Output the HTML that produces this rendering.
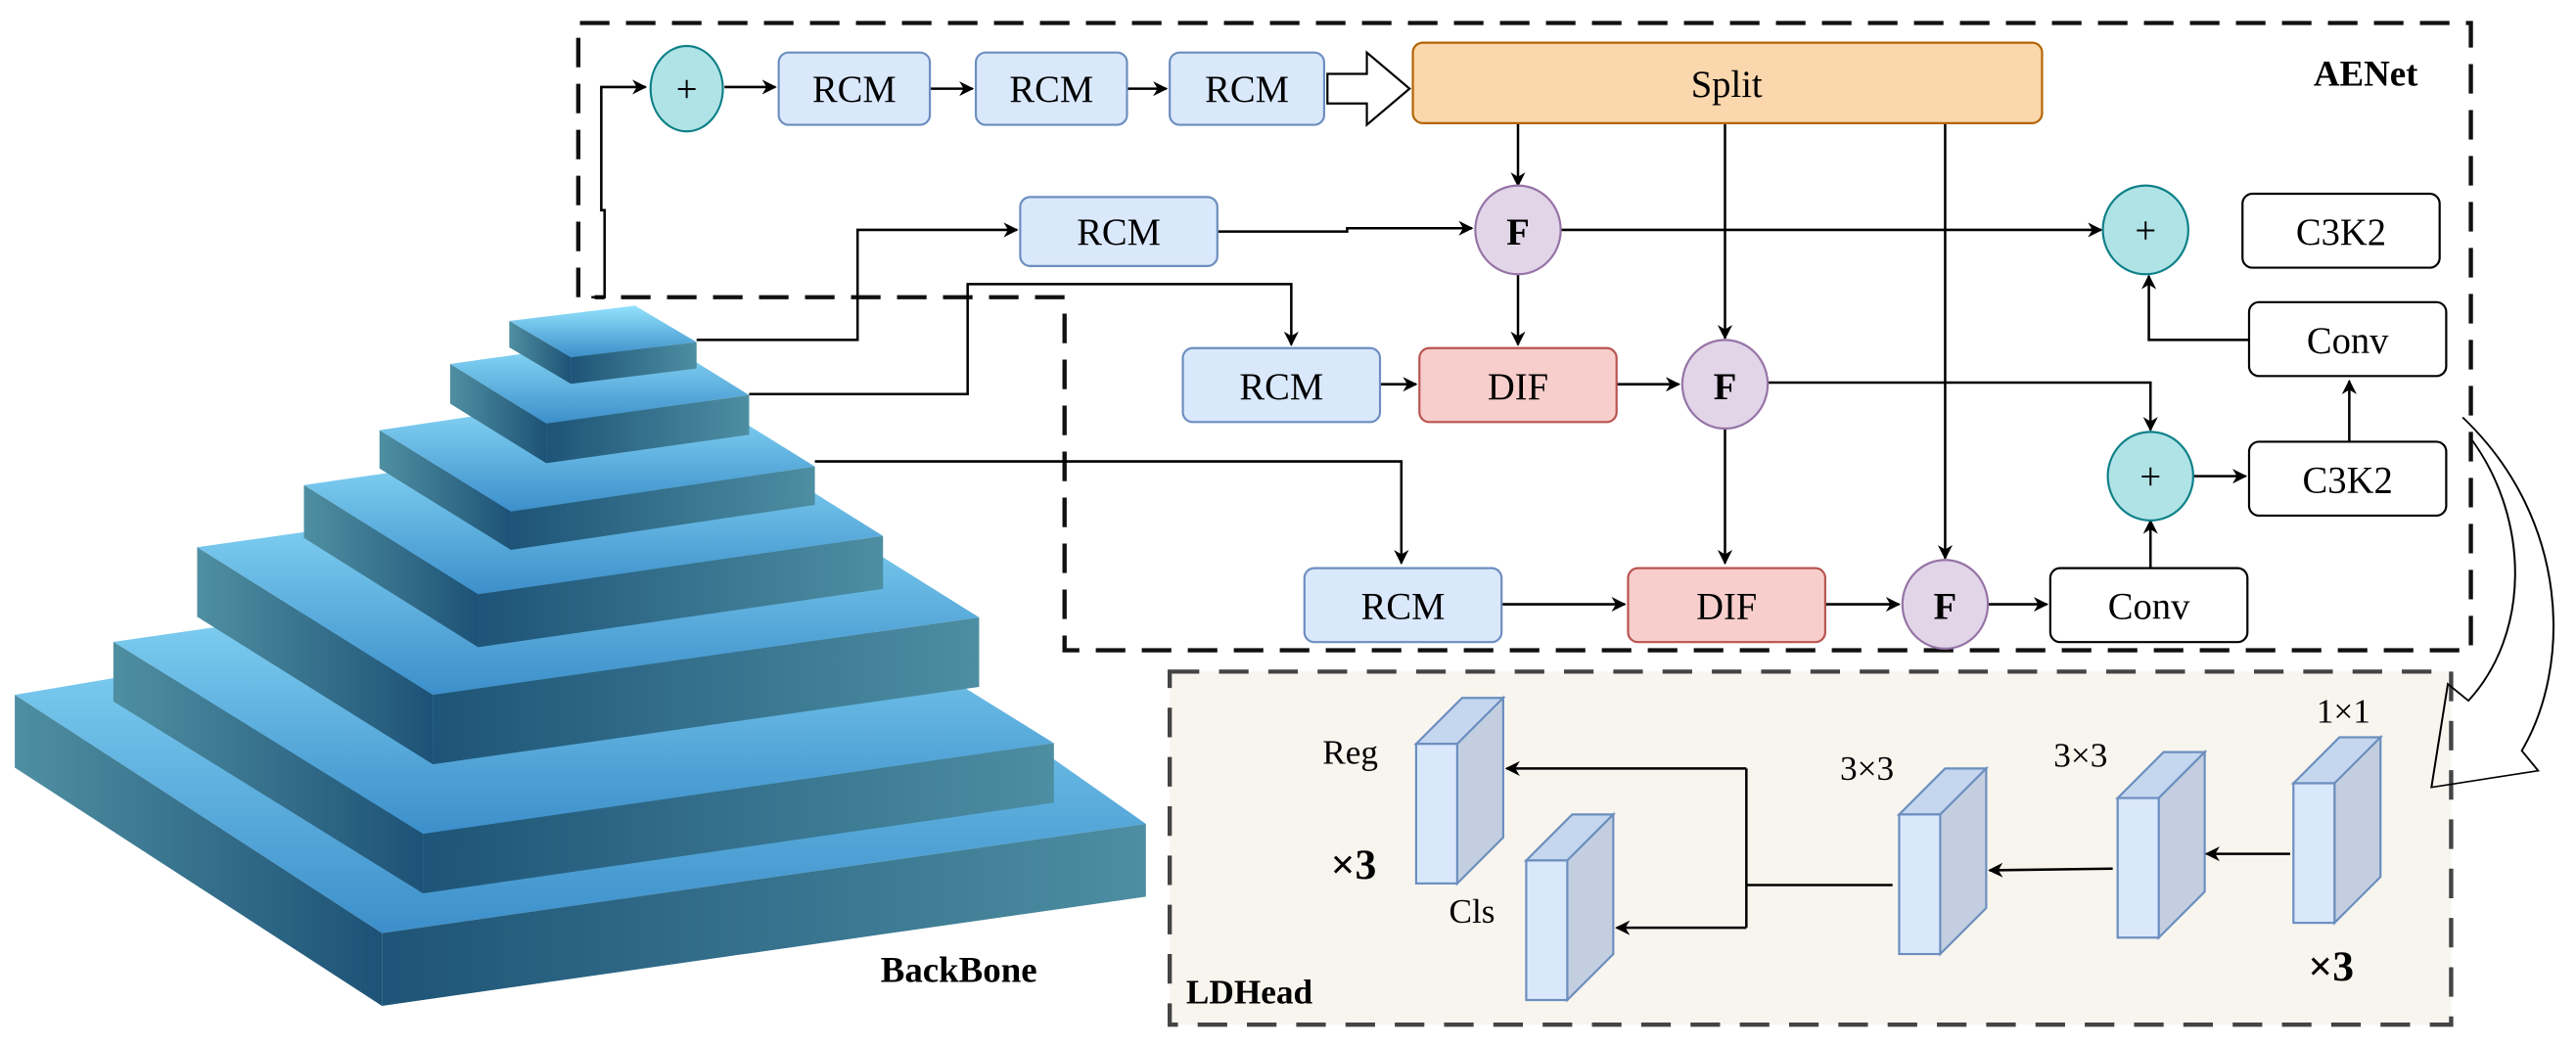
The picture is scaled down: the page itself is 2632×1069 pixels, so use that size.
<!DOCTYPE html>
<html><head><meta charset="utf-8"><style>
html,body{margin:0;padding:0;background:#fff;}
svg{display:block;}
svg text{font-family:"Liberation Serif","Times New Roman",serif;}
</style></head><body>
<svg width="2632" height="1069" viewBox="0 0 1568 637" preserveAspectRatio="none" xmlns="http://www.w3.org/2000/svg" font-family="Liberation Serif, serif">
<defs>
<marker id="ah" viewBox="0 0 10 10" refX="9" refY="5" markerWidth="6" markerHeight="6" orient="auto"><path d="M0,0 L10,5 L0,10 L3,5 z" fill="#000"/></marker>
<linearGradient id="gt" x1="0" y1="0" x2="0" y2="1"><stop offset="0" stop-color="#93e2fd"/><stop offset="1" stop-color="#3c8fca"/></linearGradient>
<linearGradient id="gl" x1="0" y1="0" x2="1" y2="0"><stop offset="0" stop-color="#4f8fa2"/><stop offset="1" stop-color="#1d5276"/></linearGradient>
<linearGradient id="gr" x1="0" y1="0" x2="1" y2="0"><stop offset="0" stop-color="#1e5477"/><stop offset="1" stop-color="#4d8ea2"/></linearGradient>
</defs>

<g transform="matrix(0.5,0,0,0.403,0,2)">
<g><polygon points="18,1045 948,850 1395,1240 465,1405" fill="url(#gt)"/><polygon points="18,1045 465,1405 465,1515 18,1155" fill="url(#gl)"/><polygon points="465,1405 1395,1240 1395,1350 465,1515" fill="url(#gr)"/></g>
<g><polygon points="138,965 906,828 1283,1118 515,1255" fill="url(#gt)"/><polygon points="138,965 515,1255 515,1345 138,1055" fill="url(#gl)"/><polygon points="515,1255 1283,1118 1283,1208 515,1345" fill="url(#gr)"/></g>
<g><polygon points="240,822 905,705 1192,928 527,1045" fill="url(#gt)"/><polygon points="240,822 527,1045 527,1150 240,927" fill="url(#gl)"/><polygon points="527,1045 1192,928 1192,1033 527,1150" fill="url(#gr)"/></g>
<g><polygon points="370,728 863,640 1075,805 582,893" fill="url(#gt)"/><polygon points="370,728 582,893 582,973 370,808" fill="url(#gl)"/><polygon points="582,893 1075,805 1075,885 582,973" fill="url(#gr)"/></g>
<g><polygon points="462,645 832,577 992,700 622,768" fill="url(#gt)"/><polygon points="462,645 622,768 622,826 462,703" fill="url(#gl)"/><polygon points="622,768 992,700 992,758 622,826" fill="url(#gr)"/></g>
<g><polygon points="548,545 795,502 912,592 665,635" fill="url(#gt)"/><polygon points="548,545 665,635 665,695 548,605" fill="url(#gl)"/><polygon points="665,635 912,592 912,652 665,695" fill="url(#gr)"/></g>
<g><polygon points="620,480 773,457 848,512 695,535" fill="url(#gt)"/><polygon points="620,480 695,535 695,575 620,520" fill="url(#gl)"/><polygon points="695,535 848,512 848,552 695,575" fill="url(#gr)"/></g>
</g>
<text x="536" y="598" font-size="22" font-weight="bold">BackBone</text>

<path d="M352,181 L352,14 L1504,14 L1504,396 L648,396 L648,181 L362,181" fill="none" stroke="#111" stroke-width="2.6" stroke-dasharray="18,10"/>
<text x="1440" y="52" font-size="22" font-weight="bold" text-anchor="middle">AENet</text>

<rect x="712" y="409" width="780" height="215" fill="#f7f5ee"/>
<rect x="712" y="409" width="780" height="215" fill="none" stroke="#444" stroke-width="2.6" stroke-dasharray="18,12"/>
<text x="722" y="611" font-size="21" font-weight="bold">LDHead</text>

<g fill="none" stroke="#000" stroke-width="1.5">
<path d="M360,181 L368,181 L368,128 L366,128 L366,53 L393,53" marker-end="url(#ah)"/>
<path d="M424,207 L522,207 L522,140 L619,140" marker-end="url(#ah)"/>
<path d="M456,240 L589,240 L589,173 L786,173 L786,210" marker-end="url(#ah)"/>
<path d="M496,281 L853,281 L853,343" marker-end="url(#ah)"/>
<path d="M441,53 L472,53" marker-end="url(#ah)"/>
<path d="M566,54 L592,54" marker-end="url(#ah)"/>
<path d="M686,54 L710,54" marker-end="url(#ah)"/>
<path d="M924,75 L924,113" marker-end="url(#ah)"/>
<path d="M1050,75 L1050,206" marker-end="url(#ah)"/>
<path d="M1184,75 L1184,340" marker-end="url(#ah)"/>
<path d="M741,141 L820,141 L820,139 L896,139" marker-end="url(#ah)"/>
<path d="M950,140 L1279,140" marker-end="url(#ah)"/>
<path d="M924,167 L924,210" marker-end="url(#ah)"/>
<path d="M840,234 L862,234" marker-end="url(#ah)"/>
<path d="M984,234 L1022,234" marker-end="url(#ah)"/>
<path d="M1076,233 L1309,233 L1309,262" marker-end="url(#ah)"/>
<path d="M1050,261 L1050,343" marker-end="url(#ah)"/>
<path d="M914,368 L989,368" marker-end="url(#ah)"/>
<path d="M1111,368 L1156,368" marker-end="url(#ah)"/>
<path d="M1210,368 L1246,368" marker-end="url(#ah)"/>
<path d="M1309,346 L1309,317" marker-end="url(#ah)"/>
<path d="M1335,290 L1367,290" marker-end="url(#ah)"/>
<path d="M1430,269 L1430,232" marker-end="url(#ah)"/>
<path d="M1369,207 L1308,207 L1308,168" marker-end="url(#ah)"/>
</g>

<polygon points="808,45 832,45 832,32 858,54 832,76 832,63 808,63" fill="#fff" stroke="#000" stroke-width="1.3"/>

<g stroke-width="1.3">
<ellipse cx="418" cy="54" rx="22" ry="26" fill="#b0e3e6" stroke="#0e8088"/>
<rect x="474" y="32" width="92" height="44" rx="6" fill="#dae8fc" stroke="#6c8ebf"/>
<rect x="594" y="32" width="92" height="44" rx="6" fill="#dae8fc" stroke="#6c8ebf"/>
<rect x="712" y="32" width="94" height="44" rx="6" fill="#dae8fc" stroke="#6c8ebf"/>
<rect x="860" y="26" width="383" height="49" rx="6" fill="#fad7ac" stroke="#b46504"/>
<rect x="621" y="120" width="120" height="42" rx="6" fill="#dae8fc" stroke="#6c8ebf"/>
<ellipse cx="924" cy="140" rx="26" ry="27" fill="#e1d5e7" stroke="#9673a6"/>
<ellipse cx="1306" cy="140" rx="26" ry="27" fill="#b0e3e6" stroke="#0e8088"/>
<rect x="1365" y="118" width="120" height="45" rx="6" fill="#fff" stroke="#000"/>
<rect x="720" y="212" width="120" height="45" rx="6" fill="#dae8fc" stroke="#6c8ebf"/>
<rect x="864" y="212" width="120" height="45" rx="6" fill="#f8cecc" stroke="#b85450"/>
<ellipse cx="1050" cy="234" rx="26" ry="27" fill="#e1d5e7" stroke="#9673a6"/>
<rect x="1369" y="184" width="120" height="45" rx="6" fill="#fff" stroke="#000"/>
<ellipse cx="1309" cy="290" rx="26" ry="27" fill="#b0e3e6" stroke="#0e8088"/>
<rect x="1369" y="269" width="120" height="45" rx="6" fill="#fff" stroke="#000"/>
<rect x="794" y="346" width="120" height="45" rx="6" fill="#dae8fc" stroke="#6c8ebf"/>
<rect x="991" y="346" width="120" height="45" rx="6" fill="#f8cecc" stroke="#b85450"/>
<ellipse cx="1184" cy="368" rx="26" ry="27" fill="#e1d5e7" stroke="#9673a6"/>
<rect x="1248" y="346" width="120" height="45" rx="6" fill="#fff" stroke="#000"/>
</g>
<g font-size="23" text-anchor="middle">
<text x="418" y="62">+</text>
<text x="520" y="62">RCM</text>
<text x="640" y="62">RCM</text>
<text x="759" y="62">RCM</text>
<text x="1051" y="59">Split</text>
<text x="681" y="149">RCM</text>
<text x="924" y="149" font-weight="bold">F</text>
<text x="1306" y="148">+</text>
<text x="1425" y="149">C3K2</text>
<text x="780" y="243">RCM</text>
<text x="924" y="243">DIF</text>
<text x="1050" y="243" font-weight="bold">F</text>
<text x="1429" y="215">Conv</text>
<text x="1309" y="298">+</text>
<text x="1429" y="300">C3K2</text>
<text x="854" y="377">RCM</text>
<text x="1051" y="377">DIF</text>
<text x="1184" y="377" font-weight="bold">F</text>
<text x="1308" y="377">Conv</text>
</g>

<g transform="matrix(0.5,0,0,0.406,785,0.4)" fill="none" stroke="#000" stroke-width="2.4">
<path d="M1428,625 C1560,780 1560,1000 1500,1125 L1520,1155 L1390,1180 L1410,1025 L1435,1050 C1510,950 1510,780 1440,660"/>
</g>

<g stroke="#6c8ebf" stroke-width="1.3">
<g transform="translate(862,453)"><polygon points="0,0 28,-28 53,-28 25,0" fill="#c5d7ef"/><polygon points="25,0 53,-28 53,57 25,85" fill="#c3cfe0"/><rect x="0" y="0" width="25" height="85" fill="#dae8fc"/></g>
<g transform="translate(929,524)"><polygon points="0,0 28,-28 53,-28 25,0" fill="#c5d7ef"/><polygon points="25,0 53,-28 53,57 25,85" fill="#c3cfe0"/><rect x="0" y="0" width="25" height="85" fill="#dae8fc"/></g>
<g transform="translate(1156,496)"><polygon points="0,0 28,-28 53,-28 25,0" fill="#c5d7ef"/><polygon points="25,0 53,-28 53,57 25,85" fill="#c3cfe0"/><rect x="0" y="0" width="25" height="85" fill="#dae8fc"/></g>
<g transform="translate(1289,486)"><polygon points="0,0 28,-28 53,-28 25,0" fill="#c5d7ef"/><polygon points="25,0 53,-28 53,57 25,85" fill="#c3cfe0"/><rect x="0" y="0" width="25" height="85" fill="#dae8fc"/></g>
<g transform="translate(1396,477)"><polygon points="0,0 28,-28 53,-28 25,0" fill="#c5d7ef"/><polygon points="25,0 53,-28 53,57 25,85" fill="#c3cfe0"/><rect x="0" y="0" width="25" height="85" fill="#dae8fc"/></g>
</g>
<g fill="none" stroke="#000" stroke-width="1.5">
<path d="M1394,520 L1343,520" marker-end="url(#ah)"/>
<path d="M1286,529 L1211,530" marker-end="url(#ah)"/>
<path d="M1152,539 L1063,539"/>
<path d="M1063,468 L1063,565"/>
<path d="M1063,468 L917,468" marker-end="url(#ah)"/>
<path d="M1063,565 L984,565" marker-end="url(#ah)"/>
</g>
<g font-size="21">
<text x="805" y="465">Reg</text>
<text x="810" y="535" font-size="26" font-weight="bold">×3</text>
<text x="882" y="562">Cls</text>
<text x="1120" y="475">3×3</text>
<text x="1250" y="467">3×3</text>
<text x="1410" y="440">1×1</text>
<text x="1405" y="597" font-size="26" font-weight="bold">×3</text>
</g>
</svg>
</body></html>
